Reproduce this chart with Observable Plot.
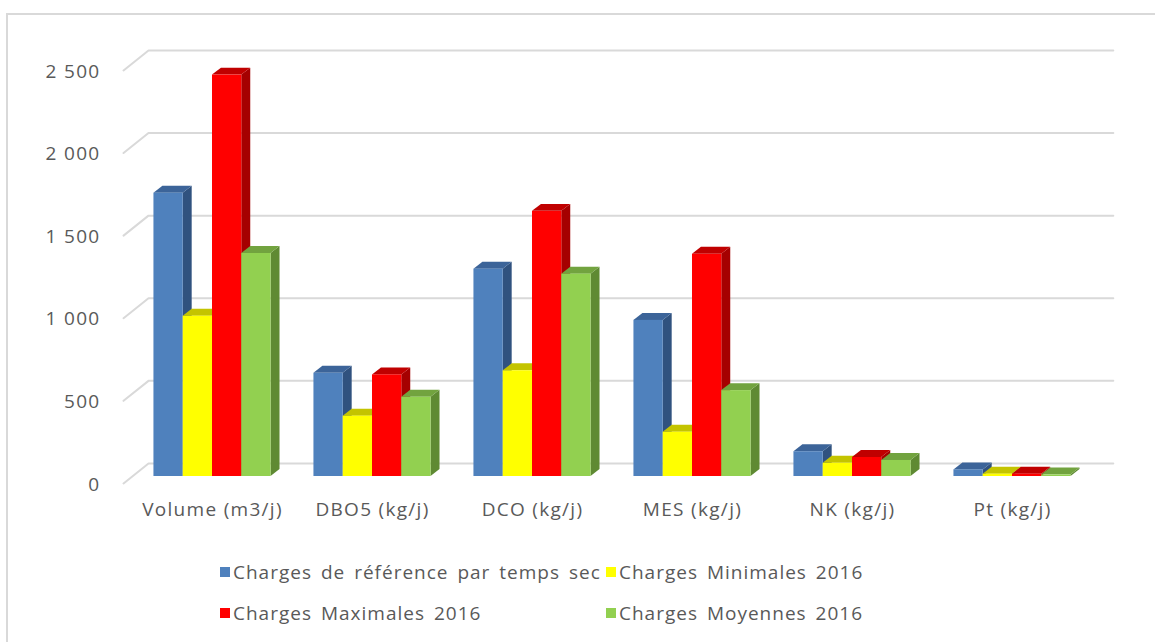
<!DOCTYPE html>
<html><head><meta charset="utf-8">
<script src="https://cdn.jsdelivr.net/npm/d3@7"></script>
<script src="https://cdn.jsdelivr.net/npm/@observablehq/plot@0.6"></script>
<style>
html,body{margin:0;padding:0;background:#fff;}
body{width:1155px;height:642px;position:relative;overflow:hidden;font-family:"Open Sans",sans-serif;}
#frame{position:absolute;left:6px;top:13px;width:1170px;height:660px;border-left:2px solid #d9d9d9;border-top:2px solid #d9d9d9;}
#chart{position:absolute;left:0;top:0;}
#chart svg text{letter-spacing:1.3px;}
#legend{position:absolute;left:220px;top:558px;display:grid;grid-template-columns:386px auto;grid-auto-rows:41px;font-size:19px;color:#595959;letter-spacing:1px;word-spacing:3px;}
.item{display:flex;align-items:center;white-space:nowrap;height:28px;}
.sw{width:10px;height:10px;margin-right:3px;flex:none;}
</style></head><body>
<div id="frame"></div>
<div id="chart"></div>
<div id="legend"></div>
<script>
const categories = ["Volume (m3/j)","DBO5 (kg/j)","DCO (kg/j)","MES (kg/j)","NK (kg/j)","Pt (kg/j)"];
const seriesNames = ["Charges de référence par temps sec","Charges Minimales 2016","Charges Maximales 2016","Charges Moyennes 2016"];
const reference = [1715, 625, 1255, 945, 150, 40];
const minimales = [970, 365, 640, 268, 80, 14];
const maximales = [2430, 615, 1605, 1345, 115, 14];
const moyennes  = [1350, 480, 1225, 520, 97, 10];
const yTicks = [0, 500, 1000, 1500, 2000, 2500];
const frontColors = ["#4f81bd","#ffff00","#ff0000","#92d050"];
const sideColors  = ["#30527f","#a5a500","#a50000","#5f8a33"];
const topColors   = ["#3c6499","#c4c400","#c00000","#72a33f"];

const values = [reference, minimales, maximales, moyennes];
// 3D geometry (category units on x, value units on y)
const BAR = 0.183, DX = 0.056, DY = 42;
const WALL_FRONT = {x: -0.056, y: -42}, WALL_BACK = {x: 0.1, y: 79}, WALL_END = 6.13;

const rows = [];
categories.forEach((c, ci) => values.forEach((vals, si) => {
  const x1 = ci + 0.5 + (si - 2) * BAR;
  rows.push({id: ci * 4 + si, ci, si, value: vals[ci], x1, x2: x1 + BAR});
}));
const sidePts = rows.flatMap(d => [
  {id: d.id, x: d.x2, y1: 0, y2: d.value, c: sideColors[d.si]},
  {id: d.id, x: d.x2 + DX, y1: DY, y2: d.value + DY, c: sideColors[d.si]}
]);
const topPts = rows.flatMap(d => [
  {id: d.id, y: d.value, x1: d.x1, x2: d.x2, c: topColors[d.si]},
  {id: d.id, y: d.value + DY, x1: d.x1 + DX, x2: d.x2 + DX, c: topColors[d.si]}
]);
const gridPts = yTicks.flatMap(v => [
  {v, x: WALL_FRONT.x, y: v + WALL_FRONT.y},
  {v, x: WALL_BACK.x, y: v + WALL_BACK.y},
  {v, x: WALL_END, y: v + WALL_BACK.y}
]);

const fmt = d3.formatLocale({decimal: ",", thousands: "\u00a0", grouping: [3]}).format(",d");

const chart = Plot.plot({
  width: 1155, height: 545,
  marginLeft: 132, marginRight: 63, marginTop: 63, marginBottom: 69,
  x: {domain: [0, 6], axis: null},
  y: {domain: [0, 2500], axis: null},
  color: {type: "identity"},
  style: {fontFamily: "Open Sans, sans-serif", fontSize: "19px", color: "#595959", background: "transparent", overflow: "visible"},
  marks: [
    Plot.line(gridPts, {x: "x", y: "y", z: "v", stroke: "#d9d9d9", strokeWidth: 2, curve: "linear"}),
    Plot.areaY(sidePts, {x: "x", y1: "y1", y2: "y2", z: "id", fill: "c", curve: "linear"}),
    Plot.areaX(topPts, {y: "y", x1: "x1", x2: "x2", z: "id", fill: "c", curve: "linear"}),
    Plot.rect(rows, {x1: "x1", x2: "x2", y1: d => 0, y2: "value", fill: d => frontColors[d.si]}),
    Plot.axisY({ticks: yTicks, tickFormat: fmt, tickSize: 0, tickPadding: 32, dy: 8, label: null, fontSize: 19}),
    Plot.axisX({ticks: categories.map((d, i) => i + 0.5), tickFormat: d => categories[Math.floor(d)], tickSize: 0, tickPadding: 26, label: null, fontSize: 19})
  ]
});
document.getElementById("chart").appendChild(chart);

const legend = document.getElementById("legend");
[0, 1, 2, 3].forEach(i => {
  const it = document.createElement("div");
  it.className = "item";
  it.innerHTML = `<span class="sw" style="background:${frontColors[i]}"></span><span>${seriesNames[i]}</span>`;
  legend.appendChild(it);
});
</script>
</body></html>
